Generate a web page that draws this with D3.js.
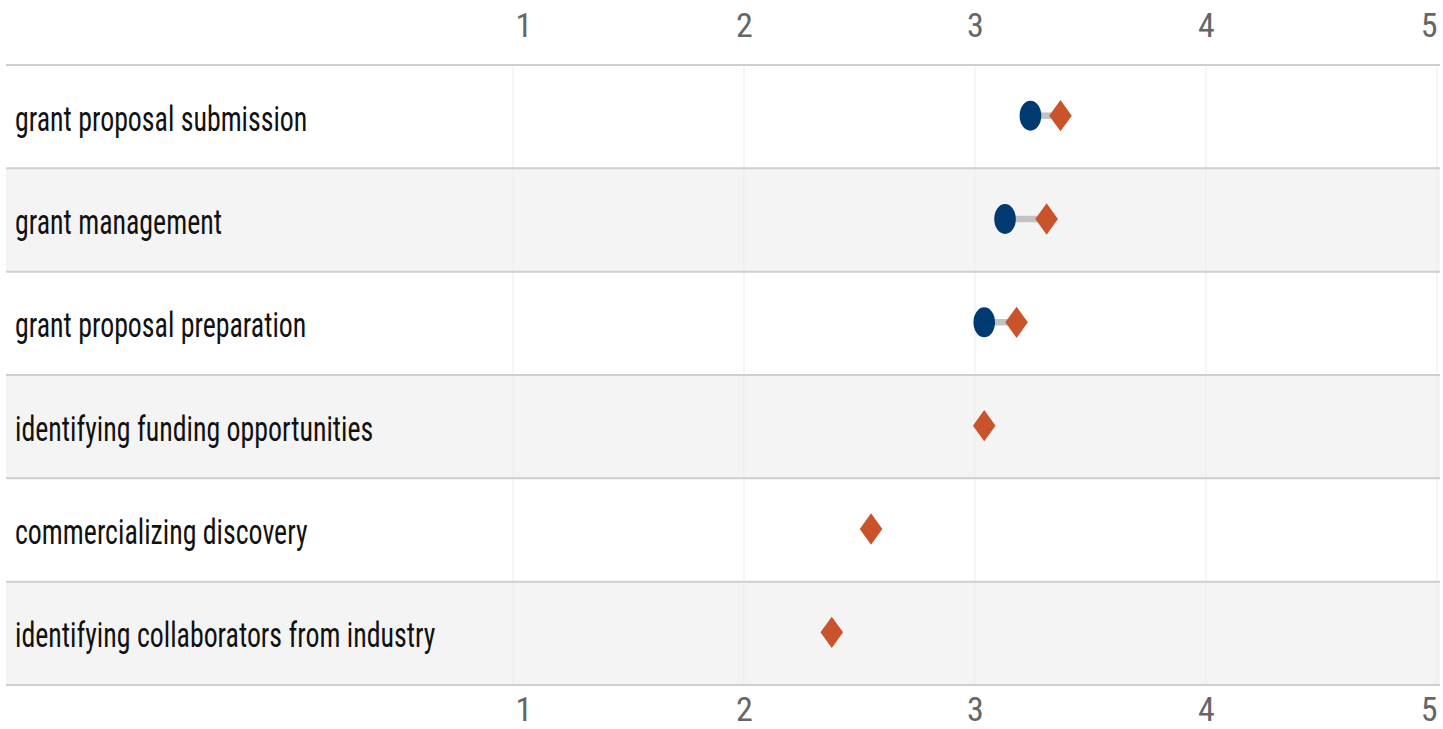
<!DOCTYPE html>
<html>
<head>
<meta charset="utf-8">
<script src="https://cdn.jsdelivr.net/npm/d3@7"></script>
<style>
  body { margin: 0; background: #fff; }
  svg { display: block; }
  .axis text { font-family: "Liberation Sans Narrow", "Roboto Condensed", "DejaVu Sans Condensed", sans-serif; }
</style>
</head>
<body>
<svg id="chart"></svg>
<script>
const categories = [
    "grant proposal submission",
    "grant management",
    "grant proposal preparation",
    "identifying funding opportunities",
    "commercializing discovery",
    "identifying collaborators from industry"
];
// circle series (missing where no circle is drawn)
const circleValues = [3.24, 3.13, 3.04, null, null, null];
// diamond series
const diamondValues = [3.37, 3.31, 3.18, 3.04, 2.55, 2.38];
const tickValues = [1, 2, 3, 4, 5];

const width = 1443;
const height = 729;
const labelFont = '"Liberation Sans Narrow", "Roboto Condensed", "DejaVu Sans Condensed", sans-serif';

const svg = d3.select("#chart")
    .attr("width", width)
    .attr("height", height);

const x = d3.scaleLinear()
    .domain([1, 5])
    .range([513, 1437]);

const y = d3.scaleBand()
    .domain(categories)
    .range([65, 685])
    .padding(0);

const rows = categories.map((c, i) => ({
    name: c,
    circle: circleValues[i],
    diamond: diamondValues[i],
    i: i
}));

// row backgrounds
svg.selectAll(".row-bg")
    .data(rows)
    .join("rect")
    .attr("class", "row-bg")
    .attr("x", 6)
    .attr("y", d => y(d.name))
    .attr("width", 1434)
    .attr("height", y.bandwidth())
    .attr("fill", d => d.i % 2 === 1 ? "#f4f4f4" : "#ffffff");

// vertical grid
svg.selectAll(".grid")
    .data(tickValues)
    .join("line")
    .attr("class", "grid")
    .attr("x1", d => x(d))
    .attr("x2", d => x(d))
    .attr("y1", 65)
    .attr("y2", 685)
    .attr("stroke", "#ebebeb")
    .attr("stroke-width", 1);

// row separators
const bounds = categories.map(c => y(c)).concat([685]);
svg.selectAll(".sep")
    .data(bounds)
    .join("line")
    .attr("class", "sep")
    .attr("x1", 6)
    .attr("x2", 1440)
    .attr("y1", d => d)
    .attr("y2", d => d)
    .attr("stroke", "#cfcfcf")
    .attr("stroke-width", 2);

// axes, first label starts at the tick, last one ends there
const topAxis = svg.append("g")
    .attr("class", "axis")
    .attr("transform", "translate(0,37)")
    .call(d3.axisTop(x).tickValues(tickValues).tickSize(0).tickPadding(0).tickFormat(d3.format("d")));
const bottomAxis = svg.append("g")
    .attr("class", "axis")
    .attr("transform", "translate(0,721)")
    .call(d3.axisTop(x).tickValues(tickValues).tickSize(0).tickPadding(0).tickFormat(d3.format("d")));
[topAxis, bottomAxis].forEach(a => {
    a.select(".domain").remove();
    a.selectAll("text")
        .attr("font-size", 34)
        .attr("fill", "#666")
        .attr("text-anchor", (d, i) => i === 0 ? "start" : (i === tickValues.length - 1 ? "end" : "middle"))
        .attr("transform", (d, i) => i === 0 ? "translate(2,0)" : null);
});

// category labels (narrow, slightly tall lettering)
svg.selectAll(".label")
    .data(rows)
    .join("text")
    .attr("class", "label")
    .attr("transform", d => `translate(15,${y(d.name) + y.bandwidth() / 2 + 1}) scale(0.82,1.05)`)
    .attr("dy", "0.36em")
    .attr("font-family", labelFont)
    .attr("font-size", 34)
    .attr("fill", "#111")
    .text(d => d.name);

const cy = d => y(d.name) + y.bandwidth() / 2 - 1;

// connectors
svg.selectAll(".conn")
    .data(rows.filter(d => d.circle != null))
    .join("line")
    .attr("class", "conn")
    .attr("x1", d => x(d.circle))
    .attr("x2", d => x(d.diamond))
    .attr("y1", cy)
    .attr("y2", cy)
    .attr("stroke", "#c3c3c3")
    .attr("stroke-width", 6.5);

// circles (stretched vertically like the original)
svg.selectAll(".dot")
    .data(rows.filter(d => d.circle != null))
    .join("ellipse")
    .attr("class", "dot")
    .attr("cx", d => x(d.circle))
    .attr("cy", cy)
    .attr("rx", 10.8)
    .attr("ry", 15)
    .attr("fill", "#003a70");

// diamonds
svg.selectAll(".diamond")
    .data(rows)
    .join("path")
    .attr("class", "diamond")
    .attr("d", "M0,-15.7L11.3,0L0,15.7L-11.3,0Z")
    .attr("transform", d => `translate(${x(d.diamond)},${cy(d)})`)
    .attr("fill", "#c9532a");
</script>
</body>
</html>
